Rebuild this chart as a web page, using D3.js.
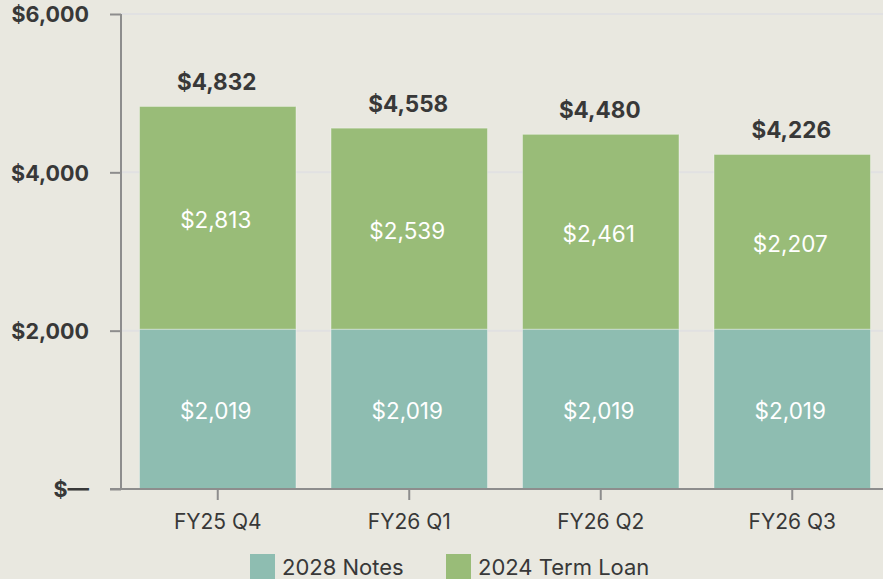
<!DOCTYPE html>
<html>
<head>
<meta charset="utf-8">
<script src="https://cdn.jsdelivr.net/npm/d3@7"></script>
<style>
    body { margin: 0; background: #e9e8e0; }
    svg { display: block; font-family: Inter, 'Liberation Sans', sans-serif; }
</style>
</head>
<body>
<svg id="chart"></svg>
<script>
const categories = ['FY25 Q4', 'FY26 Q1', 'FY26 Q2', 'FY26 Q3'];
const notes_2028 = [2019, 2019, 2019, 2019];
const term_loan_2024 = [2813, 2539, 2461, 2207];
const totals = [4832, 4558, 4480, 4226];
const y_ticks = [0, 2000, 4000, 6000];
const series_names = ['2028 Notes', '2024 Term Loan'];

class StackedBarChart {
    constructor (config) {
        this.config = {
            parent: config.parent,
            width: config.width || 883,
            height: config.height || 579,
            margin: config.margin || {top:14, right:-4, bottom:90, left:121},
            colors: config.colors
        };
        this.init();
    }

    init() {
        let self = this;

        self.svg = d3.select(self.config.parent)
            .attr('width', self.config.width)
            .attr('height', self.config.height);

        self.svg.append('rect')
            .attr('width', self.config.width)
            .attr('height', self.config.height)
            .attr('fill', '#e9e8e0');

        self.inner_width = self.config.width - self.config.margin.left - self.config.margin.right;
        self.inner_height = self.config.height - self.config.margin.top - self.config.margin.bottom;

        self.chart = self.svg.append('g')
            .attr('transform', `translate(${self.config.margin.left},${self.config.margin.top})`);

        self.xscale = d3.scaleBand()
            .domain(categories)
            .range([1, self.inner_width + 1])
            .paddingInner(0.183)
            .paddingOuter(0.0915);

        self.yscale = d3.scaleLinear()
            .domain([0, 6000])
            .range([self.inner_height, 0]);

        // grid
        self.chart.append('g')
            .selectAll('line')
            .data(y_ticks.slice(1))
            .join('line')
            .attr('x1', 0)
            .attr('x2', self.config.width)
            .attr('y1', d => self.yscale(d))
            .attr('y2', d => self.yscale(d))
            .attr('stroke', '#e1e1e2')
            .attr('stroke-width', 2);

        self.bars = self.chart.append('g');
        self.labels = self.chart.append('g');

        // axes
        const yaxis = d3.axisLeft(self.yscale)
            .tickValues(y_ticks)
            .tickSize(11)
            .tickPadding(21)
            .tickFormat(d => d == 0 ? '$\u2014' : d3.format('$,')(d));

        self.yaxis_group = self.chart.append('g')
            .call(yaxis)
            .attr('font-family', null);
        self.yaxis_group.select('.domain')
            .attr('d', `M0,0V${self.inner_height}`);
        self.yaxis_group.selectAll('text')
            .style('font-size', '21.5px')
            .style('font-weight', 'bold')
            .attr('dy', '0.36em')
            .attr('fill', '#383838');

        const xaxis = d3.axisBottom(self.xscale)
            .tickSize(11)
            .tickPadding(14)
            .tickSizeOuter(0);

        self.xaxis_group = self.chart.append('g')
            .attr('transform', `translate(0,${self.inner_height})`)
            .call(xaxis)
            .attr('font-family', null);
        self.xaxis_group.select('.domain')
            .attr('d', `M-11,0H${self.config.width}`);
        self.xaxis_group.selectAll('text')
            .style('font-size', '21px')
            .attr('fill', '#383838');

        self.svg.selectAll('.domain, .tick line')
            .attr('stroke', '#8d8d8d')
            .attr('stroke-width', 2);

        // legend
        const legend_x = [250, 446];
        series_names.forEach((name, i) => {
            self.svg.append('rect')
                .attr('x', legend_x[i])
                .attr('y', 554)
                .attr('width', 25)
                .attr('height', 25)
                .attr('fill', self.config.colors[i]);
            self.svg.append('text')
                .attr('x', legend_x[i] + 32)
                .attr('y', 575)
                .style('font-size', '22px')
                .attr('fill', '#383838')
                .text(name);
        });
    }

    update() {
        let self = this;

        const rows = categories.map((c, i) => ({cat: c, notes: notes_2028[i], loan: term_loan_2024[i], total: totals[i]}));
        self.stacked = d3.stack().keys(['notes', 'loan'])(rows);

        self.render(rows);
    }

    render(rows) {
        let self = this;

        self.bars.selectAll('g')
            .data(self.stacked)
            .join('g')
            .attr('fill', (d, i) => self.config.colors[i])
            .selectAll('rect')
            .data(d => d)
            .join('rect')
            .attr('x', d => self.xscale(d.data.cat))
            .attr('y', d => self.yscale(d[1]))
            .attr('width', self.xscale.bandwidth())
            .attr('height', d => self.yscale(d[0]) - self.yscale(d[1]))
            .attr('stroke', 'rgba(255,255,255,0.35)')
            .attr('stroke-width', 1);

        // values inside segments
        self.labels.selectAll('text.seg')
            .data(self.stacked.flatMap(s => s.map(d => ({d: d, v: d.data[s.key]}))))
            .join('text')
            .attr('class', 'seg')
            .attr('x', e => self.xscale(e.d.data.cat) + self.xscale.bandwidth()/2 - 2)
            .attr('y', e => (self.yscale(e.d[0]) + self.yscale(e.d[1]))/2 + 2)
            .attr('dy', '0.36em')
            .attr('text-anchor', 'middle')
            .style('font-size', '22.5px')
            .attr('fill', 'white')
            .text(e => d3.format('$,')(e.v));

        // totals above bars
        self.labels.selectAll('text.total')
            .data(rows)
            .join('text')
            .attr('class', 'total')
            .attr('x', d => self.xscale(d.cat) + self.xscale.bandwidth()/2 - 1)
            .attr('y', d => self.yscale(d.total) - 16)
            .attr('text-anchor', 'middle')
            .style('font-size', '22.5px')
            .style('font-weight', 'bold')
            .attr('fill', '#383838')
            .text(d => d3.format('$,')(d.total));
    }
}

const chart = new StackedBarChart({
    parent: '#chart',
    width: 883,
    height: 579,
    margin: {top:14, right:-4, bottom:90, left:121},
    colors: ['#8ebdb1', '#99bc78']
});
chart.update();
</script>
</body>
</html>
